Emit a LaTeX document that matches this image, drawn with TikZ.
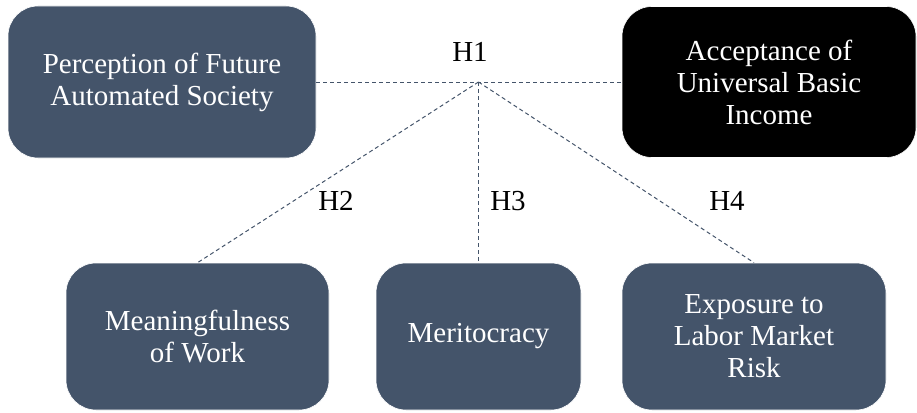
\documentclass[tikz,border=0pt]{standalone}
\usepackage{fontspec}
\setmainfont{Liberation Serif}
\definecolor{slate}{HTML}{44546A}
\begin{document}
\begin{tikzpicture}[x=1pt,y=-1pt,
  box/.style={rectangle, rounded corners=30pt, fill=slate, draw=white, line width=0.6pt,
    text=white, align=center, inner sep=0pt,
    font=\fontsize{29pt}{32pt}\selectfont},
  blackbox/.style={box, fill=black},
  hlabel/.style={text=black, inner sep=0pt, font=\fontsize{29pt}{32pt}\selectfont},
  link/.style={draw=slate, line width=1pt, dash pattern=on 4pt off 3pt}]
\useasboundingbox (0,0) rectangle (917,412);
\node[box, minimum width=308pt, minimum height=152pt] (pfas) at (162,82)
  {Perception of Future\\Automated Society};
\node[blackbox, minimum width=294pt, minimum height=151pt] (aubi) at (769,82)
  {Acceptance of\\Universal Basic\\Income};
\node[box, minimum width=263pt, minimum height=147pt] (mow) at (197.5,336.5)
  {Meaningfulness\\of Work};
\node[box, minimum width=205pt, minimum height=147pt] (mer) at (478.5,336.5)
  {Meritocracy};
\node[box, minimum width=264pt, minimum height=147pt] (elmr) at (754,336.5)
  {Exposure to\\Labor Market\\Risk};
\coordinate (J) at (478.5,82);
\draw[link] (pfas.east) -- (aubi.west);
\draw[link] (J) -- (mow.north);
\draw[link] (J) -- (mer.north);
\draw[link] (J) -- (elmr.north);
\node[hlabel] (h1) at (470,52) {H1};
\node[hlabel] (h2) at (336,201) {H2};
\node[hlabel] (h3) at (508,201) {H3};
\node[hlabel] (h4) at (727,201) {H4};
\end{tikzpicture}
\end{document}
